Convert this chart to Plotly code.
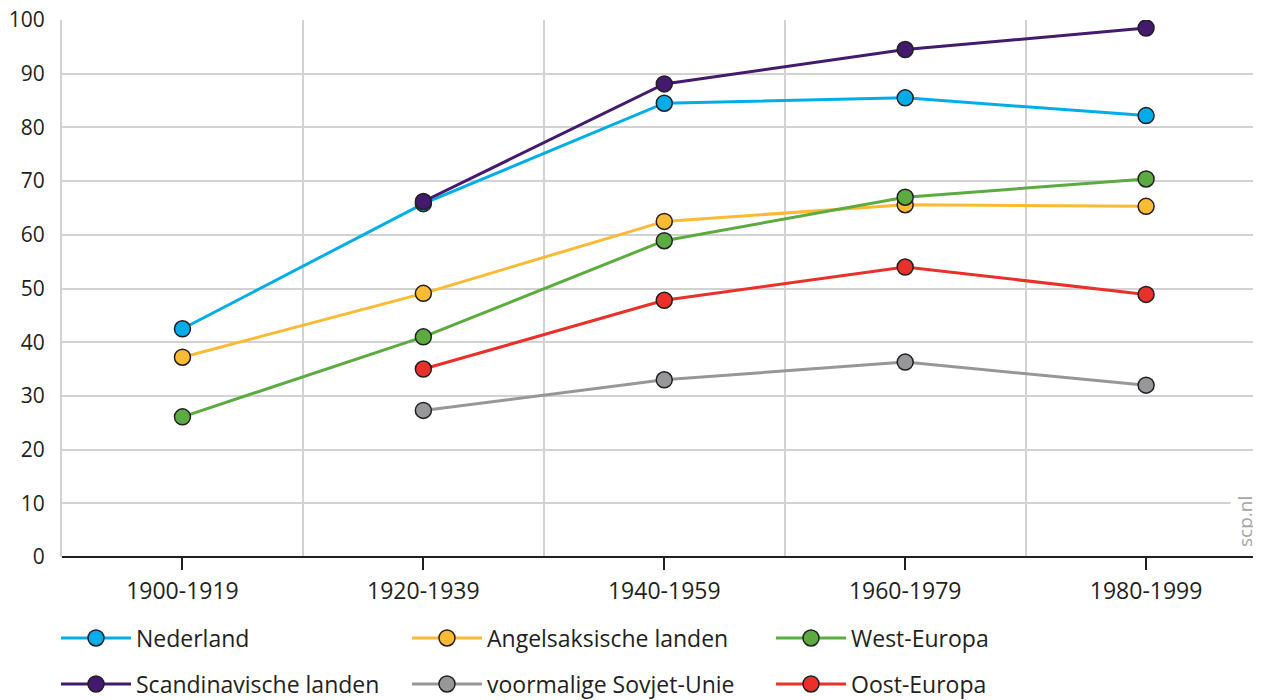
import plotly.graph_objects as go

periods = ["1900-1919", "1920-1939", "1940-1959", "1960-1979", "1980-1999"]

nederland = [42.5, 65.8, 84.5, 85.5, 82.2]
angelsaksisch = [37.2, 49.1, 62.5, 65.6, 65.3]
west_europa = [26.1, 41.0, 58.9, 67.0, 70.4]
scandinavie = [None, 66.2, 88.1, 94.5, 98.5]
sovjet = [None, 27.3, 33.0, 36.3, 32.0]
oost_europa = [None, 35.0, 47.8, 54.0, 48.9]

series_names = ["Nederland", "Angelsaksische landen", "West-Europa",
                "Scandinavische landen", "voormalige Sovjet-Unie", "Oost-Europa"]
series_values = [nederland, angelsaksisch, west_europa, scandinavie, sovjet, oost_europa]
series_colors = ["#00ade9", "#fbba33", "#5bab41", "#431a6d", "#97979a", "#e9302a"]

y_ticks = [0, 10, 20, 30, 40, 50, 60, 70, 80, 90, 100]

FONT = "Open Sans"
TXT = "#231f20"
GRID = "#d2d2d2"

# page body has an 8px margin: work in figure coordinates = page - 8
OFF = 8
W, H = 1261 - OFF, 700 - OFF
ML, MT = 62 - OFF, 20 - OFF
PW = W - ML
PH = (557 - OFF) - MT
MR, MB = 0, H - MT - PH

# legend layout (page-pixel placement of each entry: line start, row centre)
leg_cols_px = [62, 413, 777]
leg_rows_px = [638, 684]
SYMBOL_OFFSET = 6


def px_x(page_x):
    return (page_x - OFF - ML) / PW


def px_y(page_y):
    return (MT + PH - (page_y - OFF)) / PH


fig = go.Figure()
xpos = list(range(len(periods)))
legend_layout = {}
for i, (name, vals, col) in enumerate(zip(series_names, series_values, series_colors)):
    lname = "legend" if i == 0 else f"legend{i + 1}"
    fig.add_trace(go.Scatter(
        x=xpos, y=vals, name=name, mode="lines+markers",
        line=dict(color=col, width=3),
        marker=dict(size=16, color=col, line=dict(color=TXT, width=1.5)),
        connectgaps=False, legend=lname,
    ))
    legend_layout[lname] = dict(
        orientation="h",
        x=px_x(leg_cols_px[i % 3] - SYMBOL_OFFSET), xanchor="left",
        y=px_y(leg_rows_px[i // 3]), yanchor="middle",
        font=dict(size=23, family=FONT, color=TXT),
        itemwidth=70, bgcolor="rgba(0,0,0,0)",
    )

fig.update_layout(
    width=W, height=H,
    margin=dict(l=ML, r=MR, t=MT, b=MB, autoexpand=False),
    plot_bgcolor="white", paper_bgcolor="white",
    font=dict(family=FONT, color=TXT, size=20),
    showlegend=True,
    xaxis=dict(
        range=[-0.5, 4.477], automargin=False,
        tickmode="array", tickvals=xpos, ticktext=periods,
        showgrid=False, zeroline=False,
        ticks="outside", ticklen=12, tickwidth=2, tickcolor=TXT,
        ticklabelstandoff=1, ticklabeloverflow="allow",
        tickfont=dict(size=23),
        showline=False,
        minor=dict(tickmode="array", tickvals=[0.5, 1.5, 2.5, 3.5],
                   showgrid=True, gridcolor=GRID, gridwidth=1.5, ticks=""),
    ),
    yaxis=dict(
        range=[0, 100], automargin=False,
        tickmode="array", tickvals=y_ticks,
        showgrid=True, gridcolor=GRID, gridwidth=1.5,
        zeroline=True, zerolinecolor=TXT, zerolinewidth=2,
        showline=True, linecolor=GRID, linewidth=2,
        ticks="", ticklabelstandoff=11, ticklabeloverflow="allow",
        tickfont=dict(size=21),
    ),
    **legend_layout,
)

fig.add_annotation(
    text="scp.nl", xref="paper", yref="paper",
    x=px_x(1245), y=px_y(522), xanchor="center", yanchor="middle",
    textangle=-90, showarrow=False, bgcolor="white", borderpad=1,
    font=dict(size=19, color="#a5a5a5", family=FONT),
)

fig.write_html("out.html")
